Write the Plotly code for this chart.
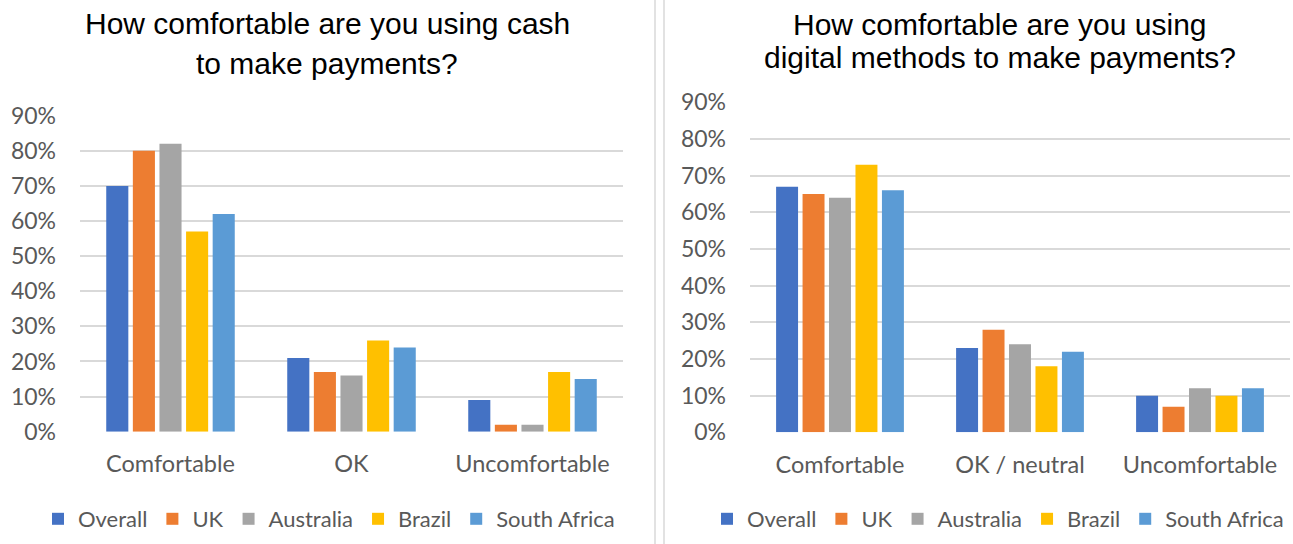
import plotly.graph_objects as go

# Survey results: share of respondents by comfort level
countries = ["Overall", "UK", "Australia", "Brazil", "South Africa"]
colors = ["#4472C4", "#ED7D31", "#A5A5A5", "#FFC000", "#5B9BD5"]

cash_levels = ["Comfortable", "OK", "Uncomfortable"]
cash_overall = [0.70, 0.21, 0.09]
cash_uk = [0.80, 0.17, 0.02]
cash_australia = [0.82, 0.16, 0.02]
cash_brazil = [0.57, 0.26, 0.17]
cash_south_africa = [0.62, 0.24, 0.15]

digital_levels = ["Comfortable", "OK / neutral", "Uncomfortable"]
digital_overall = [0.67, 0.23, 0.10]
digital_uk = [0.65, 0.28, 0.07]
digital_australia = [0.64, 0.24, 0.12]
digital_brazil = [0.73, 0.18, 0.10]
digital_south_africa = [0.66, 0.22, 0.12]

y_tick_values = [0, 0.1, 0.2, 0.3, 0.4, 0.5, 0.6, 0.7, 0.8, 0.9]
y_tick_labels = ["0%", "10%", "20%", "30%", "40%", "50%", "60%", "70%", "80%", "90%"]

cash_series = [cash_overall, cash_uk, cash_australia, cash_brazil, cash_south_africa]
digital_series = [digital_overall, digital_uk, digital_australia, digital_brazil, digital_south_africa]

W, H = 1293, 544
FONT = "Lato"
GREY = "#595959"
GRID = "#D9D9D9"

fig = go.Figure()

for name, color, vals in zip(countries, colors, cash_series):
    fig.add_trace(go.Bar(
        x=cash_levels, y=vals, name=name, marker_color=color,
        marker_line_width=0, xaxis="x", yaxis="y", legend="legend",
    ))

for name, color, vals in zip(countries, colors, digital_series):
    fig.add_trace(go.Bar(
        x=digital_levels, y=vals, name=name, marker_color=color,
        marker_line_width=0, xaxis="x2", yaxis="y2", legend="legend2",
    ))


def px_x(v):
    return v / W


def px_y(v):
    return 1 - v / H


yaxis_common = dict(
    range=[0, 0.9001], tickvals=y_tick_values, ticktext=y_tick_labels,
    showgrid=True, gridcolor=GRID, gridwidth=1.5, zeroline=False,
    showline=False, ticks="", ticklabelstandoff=23,
    tickfont=dict(family=FONT, size=23, color=GREY), fixedrange=True,
)
xaxis_common = dict(
    showgrid=False, zeroline=False, showline=False, ticks="",
    ticklabelstandoff=16,
    tickfont=dict(family=FONT, size=23.5, color=GREY),
)

legend_common = dict(
    orientation="h", xanchor="center", yanchor="middle",
    font=dict(family=FONT, size=22, color=GREY),
    itemwidth=30, bgcolor="rgba(0,0,0,0)", traceorder="normal",
    itemclick=False, itemdoubleclick=False,
)

fig.update_layout(
    width=W, height=H,
    margin=dict(l=0, r=0, t=0, b=0, autoexpand=False),
    paper_bgcolor="white", plot_bgcolor="white",
    barmode="group", bargap=0.265, bargroupgap=0.17,
    xaxis=dict(domain=[px_x(80), px_x(623)], anchor="y", automargin=False, **xaxis_common),
    yaxis=dict(domain=[px_y(431.7), px_y(115.7)], anchor="x", automargin=False, **yaxis_common),
    xaxis2=dict(domain=[px_x(750), px_x(1290)], anchor="y2", automargin=False, **xaxis_common),
    yaxis2=dict(domain=[px_y(432.3), px_y(102.3)], anchor="x2", automargin=False, **yaxis_common),
    legend=dict(x=px_x(329), y=px_y(519), **legend_common),
    legend2=dict(x=px_x(998), y=px_y(519), **legend_common),
    showlegend=True,
)

# Chart titles, one annotation per line
title_font = dict(family="Liberation Sans, Arial, sans-serif", size=30, color="#000000")
title_lines = [
    ("How comfortable are you using cash", 327, 24),
    ("to make payments?", 327, 63),
    ("How comfortable are you using", 1000, 25),
    ("digital methods to make payments?", 1000, 58),
]
for text, cx, cy in title_lines:
    fig.add_annotation(
        text=text, xref="paper", yref="paper", x=px_x(cx), y=px_y(cy),
        xanchor="center", yanchor="middle", showarrow=False, font=title_font,
    )

# Double divider between the two charts
for sx in (655, 664):
    fig.add_shape(
        type="line", xref="paper", yref="paper",
        x0=px_x(sx), x1=px_x(sx), y0=0, y1=1,
        line=dict(color=GRID, width=1.5),
    )

fig.write_html("out.html")
